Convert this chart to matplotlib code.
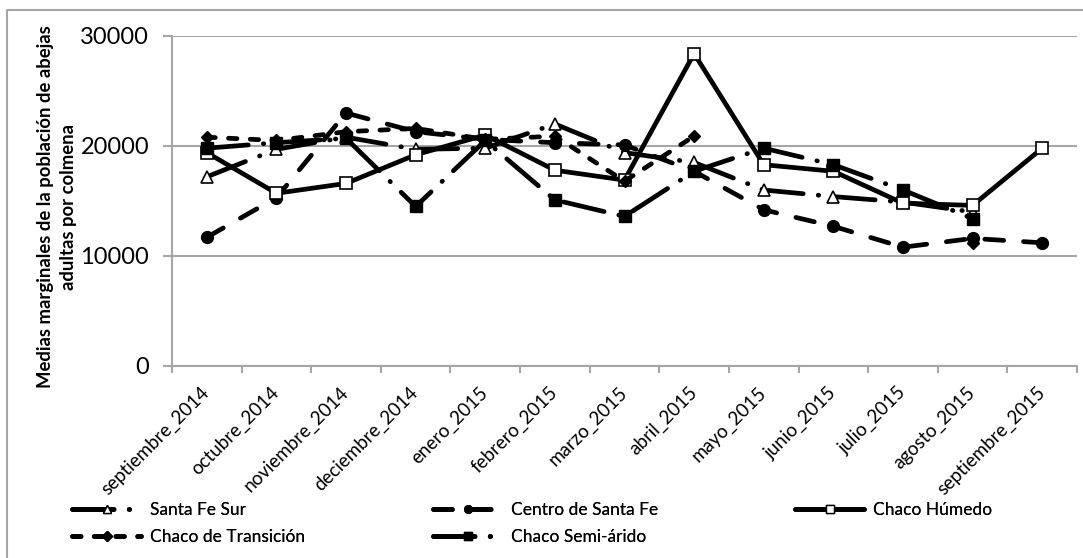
import numpy as np
import matplotlib
matplotlib.use("Agg")
import matplotlib.pyplot as plt
from matplotlib.lines import Line2D

plt.rcParams['font.family'] = ['Lato', 'DejaVu Sans']

nan = np.nan
meses = ["septiembre_2014", "octubre_2014", "noviembre_2014", "deciembre_2014",
         "enero_2015", "febrero_2015", "marzo_2015", "abril_2015", "mayo_2015",
         "junio_2015", "julio_2015", "agosto_2015", "septiembre_2015"]

santa_fe_sur = [17200, 19700, 20800, 19700, 19800, 22000, 19400, 18500, 16000, 15400, 14900, 14000, nan]
centro_santa_fe = [11700, 15300, 23000, 21300, 20600, 20300, 20100, 17700, 14200, 12700, 10800, 11600, 11200]
chaco_humedo = [19400, 15700, 16600, 19200, 21000, 17800, 16900, 28400, 18300, 17700, 14800, 14600, 19800]
chaco_transicion = [20800, 20500, 21300, 21600, 20600, 20900, 16800, 20900, nan, nan, nan, 11200, nan]
chaco_semiarido = [19800, 20300, 20700, 14500, 20500, 15100, 13600, 17700, 19800, 18300, 16000, 13400, nan]

W, H = 1083, 558
fig = plt.figure(figsize=(W / 100, H / 100), dpi=100)
ax = fig.add_axes([172 / W, 1 - 366 / H, (1077 - 172) / W, (366 - 36) / H])

gris = "#a6a6a6"
lw = 3.4
x = np.arange(len(meses))

long_dash_dot = (0, (8.8, 3.2, 0.1, 3.2))
long_dash = (0, (4.0, 4.2))
dash = (0, (1.8, 2.8))

series = [
    (santa_fe_sur, "Santa Fe Sur", long_dash_dot, dict(marker="^", ms=8, mfc="white", mec="black", mew=1.2)),
    (centro_santa_fe, "Centro de Santa Fe", long_dash, dict(marker="o", ms=8.5, mfc="black", mec="black")),
    (chaco_humedo, "Chaco Húmedo", "-", dict(marker="s", ms=8.5, mfc="white", mec="black", mew=1.2)),
    (chaco_transicion, "Chaco de Transición", dash, dict(marker="D", ms=6.5, mfc="black", mec="black")),
    (chaco_semiarido, "Chaco Semi-árido", long_dash_dot, dict(marker="s", ms=8, mfc="black", mec="black")),
]

leg_items = {}
for vals, name, ls, mk in series:
    ax.plot(x, vals, color="black", lw=lw, ls=ls, dash_capstyle="round",
            solid_capstyle="round", label=name, **mk)
    leg_items[name] = Line2D([], [], color="black", lw=lw, ls=ls, dash_capstyle="round",
                             solid_capstyle="round", marker=mk["marker"], ms=5.5,
                             mfc=mk["mfc"], mec="black", mew=1)

ax.set_xlim(-0.5, len(meses) - 0.5)
ax.set_ylim(0, 30000)
ax.set_yticks([0, 10000, 20000, 30000])
ax.yaxis.grid(True, color=gris, lw=1.5)
ax.set_axisbelow(True)
for s in ["top", "right"]:
    ax.spines[s].set_visible(False)
for s in ["left", "bottom"]:
    ax.spines[s].set_color(gris)
    ax.spines[s].set_linewidth(1.5)

ax.tick_params(axis="y", colors=gris, length=6.5, width=1.5, labelsize=17, labelcolor="black", pad=10)
ax.set_xticks(x)
ax.set_xticklabels(meses, rotation=45, ha="right", va="center", rotation_mode="anchor", fontsize=13.5)
ax.tick_params(axis="x", length=0, pad=17)
ax.set_xticks(np.arange(len(meses) + 1) - 0.5, minor=True)
ax.tick_params(axis="x", which="minor", colors=gris, length=5, width=1.5)

fig.text(57 / W, 1 - 207 / H, "Medias marginales de la población de abejas\nadultas por colmena",
         rotation=90, ha="center", va="center", multialignment="center",
         fontsize=13.3, fontweight="bold", linespacing=1.45)

# leyenda en tres columnas de igual ancho, como en Excel
columnas = [(72, ["Santa Fe Sur", "Chaco de Transición"]),
            (433, ["Centro de Santa Fe", "Chaco Semi-árido"]),
            (795, ["Chaco Húmedo"])]
for xpos, nombres in columnas:
    leg = fig.legend([leg_items[n] for n in nombres], nombres, loc="upper left",
                     bbox_to_anchor=(xpos / W, 1 - 502 / H), frameon=False, fontsize=12.5,
                     handlelength=4.0, handletextpad=0.5, labelspacing=0.62,
                     borderaxespad=0, borderpad=0)
    fig.add_artist(leg)

fig.add_artist(Line2D([7 / W, 7 / W, 1.0], [0.0, 1 - 10 / H, 1 - 10 / H],
                      transform=fig.transFigure, color=gris, lw=1.5))

fig.savefig("out.png", dpi=100)
